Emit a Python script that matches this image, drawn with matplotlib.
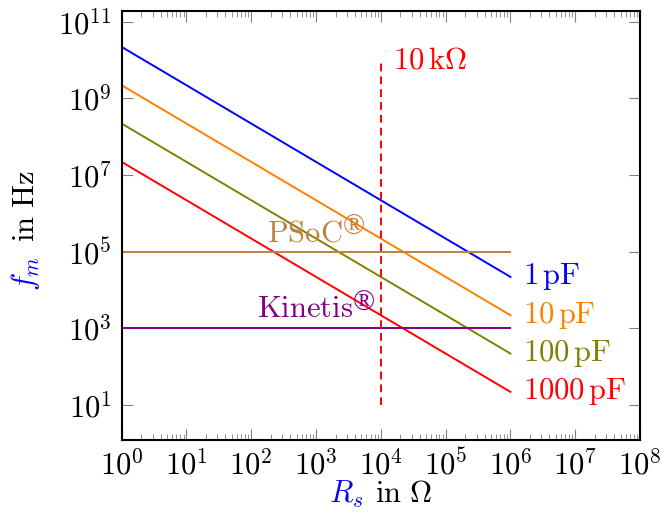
import numpy as np
import matplotlib
matplotlib.use("Agg")
import matplotlib.pyplot as plt
from matplotlib import ticker

plt.rcParams['mathtext.fontset'] = 'cm'
plt.rcParams['font.family'] = ['DejaVu Serif']

# data
r_s = [1e0, 1e6]
fm_1pF = [2.2e10, 2.2e4]
fm_10pF = [2.2e9, 2.2e3]
fm_100pF = [2.2e8, 2.2e2]
fm_1000pF = [2.2e7, 2.2e1]
cap_labels = ['1', '10', '100', '1000']
cap_colors = ['#0000ff', '#ff8000', '#808000', '#ff0000']

psoc_fm = [1e5, 1e5]
kinetis_fm = [1e3, 1e3]
r_limit = [1e4, 1e4]
r_limit_fm = [1e1, 1e10]

fs = 22

fig = plt.figure(figsize=(6.62, 5.23), dpi=100)
ax = fig.add_axes([0.1838, 0.1587, 0.7830, 0.8203])

# capacitance lines with labels at the right end
for fm, lab, col in zip([fm_1pF, fm_10pF, fm_100pF, fm_1000pF], cap_labels, cap_colors):
    ax.plot(r_s, fm, color=col, lw=1.4)
    ax.annotate(r'$%s\,\mathrm{pF}$' % lab, xy=(r_s[-1], fm[-1]), xytext=(9, 0),
                textcoords='offset points', ha='left', va='center',
                color=col, fontsize=fs, annotation_clip=False)

# microcontroller limits, registered sign added after the name
ax.plot(r_s, psoc_fm, color='#bf8040', lw=1.4)
psoc_txt = ax.annotate(r'$\mathrm{PSoC}$', xy=(1e3, psoc_fm[0]), xytext=(-8, 7),
                       textcoords='offset points', ha='center', va='baseline',
                       color='#bf8040', fontsize=fs)
ax.annotate('®', xy=(1, 1), xycoords=psoc_txt, xytext=(0, 2),
            textcoords='offset points', ha='left', va='top',
            color='#bf8040', fontsize=21, family='Liberation Serif')
ax.plot(r_s, kinetis_fm, color='#800080', lw=1.4)
kin_txt = ax.annotate(r'$\mathrm{Kinetis}$', xy=(1e3, kinetis_fm[0]), xytext=(-8, 8),
                      textcoords='offset points', ha='center', va='baseline',
                      color='#800080', fontsize=fs)
ax.annotate('®', xy=(1, 1), xycoords=kin_txt, xytext=(0, 2),
            textcoords='offset points', ha='left', va='top',
            color='#800080', fontsize=21, family='Liberation Serif')

# 10 kOhm marker
ax.plot(r_limit, r_limit_fm, color='#ff0000', lw=1.4, ls=(0, (4, 2.6)))
ax.annotate(r'$10\,\mathrm{k}\Omega$', xy=(r_limit[0], r_limit_fm[1]), xytext=(8.5, 0),
            textcoords='offset points', ha='left', va='center',
            color='#ff0000', fontsize=fs)

ax.set_xscale('log')
ax.set_yscale('log')
ax.set_xlim(1e0, 1e8)
ax.set_ylim(10 ** 0.087, 10 ** 11.28)

fmt = ticker.FuncFormatter(lambda v, _: r'$10^{%d}$' % round(np.log10(v)))
ax.xaxis.set_major_locator(ticker.LogLocator(base=10, numticks=20))
ax.xaxis.set_minor_locator(ticker.LogLocator(base=10, subs=np.arange(2, 10), numticks=20))
ax.xaxis.set_major_formatter(fmt)
ax.xaxis.set_minor_formatter(ticker.NullFormatter())
ax.yaxis.set_major_locator(ticker.FixedLocator([1e1, 1e3, 1e5, 1e7, 1e9, 1e11]))
ax.yaxis.set_minor_locator(ticker.NullLocator())
ax.yaxis.set_major_formatter(fmt)

ax.tick_params(which='both', direction='in', top=True, right=True,
               color='0.5', labelsize=fs)
ax.tick_params(which='major', length=8, width=0.8, pad=7)
ax.tick_params(which='minor', length=4.5, width=0.6)
for sp in ax.spines.values():
    sp.set_linewidth(1.5)

# axis labels with coloured symbols
fig.text(346 / 662, 1 - 494 / 523, r'$R_s$', color='#0000ff', fontsize=fs,
         ha='center', va='center')
fig.text(404 / 662, 1 - 494 / 523, r'$\mathrm{in}\ \Omega$', color='black', fontsize=fs,
         ha='center', va='center')
fig.text(25 / 662, 1 - 273 / 523, r'$f_m$', color='#0000ff', fontsize=fs,
         ha='center', va='center', rotation=90)
fig.text(25 / 662, 1 - 206 / 523, r'$\mathrm{in\ Hz}$', color='black', fontsize=fs,
         ha='center', va='center', rotation=90)

fig.savefig('out.png', dpi=100)
